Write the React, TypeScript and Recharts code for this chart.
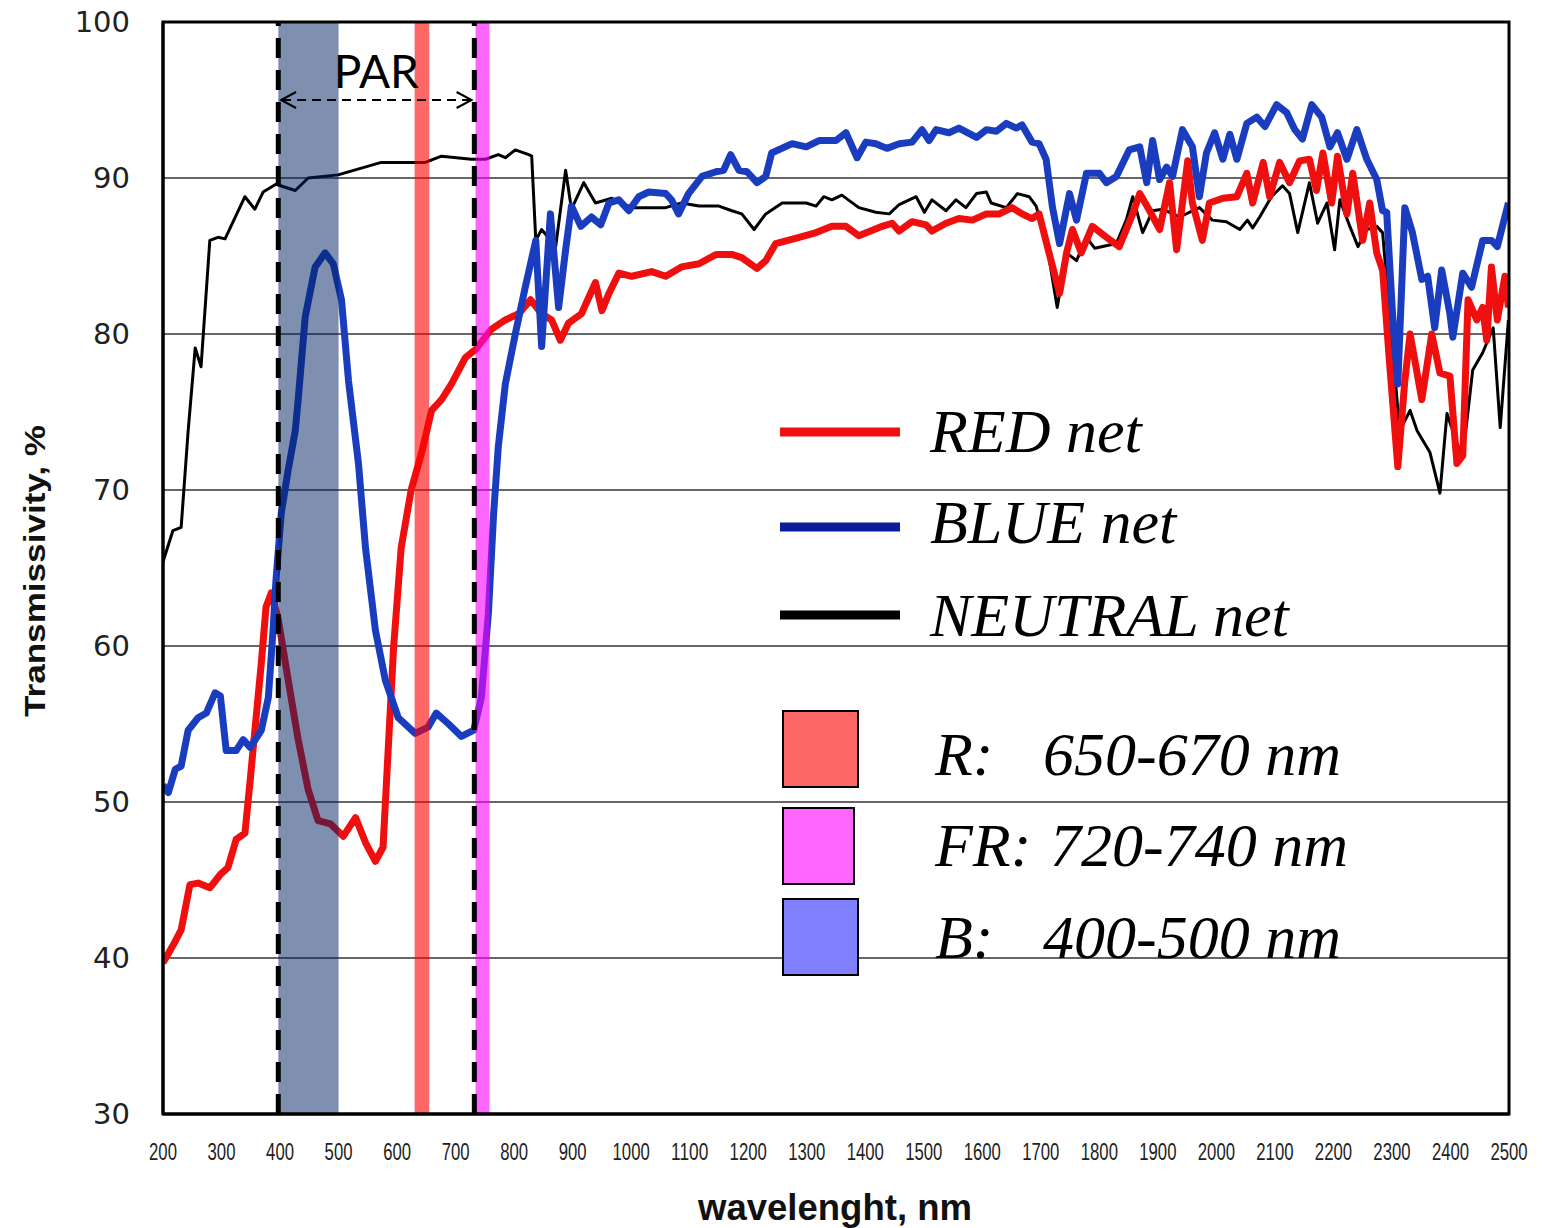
import React from 'react';
import {
  LineChart,
  Line,
  XAxis,
  YAxis,
  CartesianGrid,
  ReferenceArea,
  ReferenceLine,
  Legend,
  Label,
} from 'recharts';

// axis ticks
const xTicks = [200, 300, 400, 500, 600, 700, 800, 900, 1000, 1100, 1200, 1300, 1400, 1500, 1600, 1700, 1800, 1900, 2000, 2100, 2200, 2300, 2400, 2500];
const yTicks = [30, 40, 50, 60, 70, 80, 90, 100];

// NEUTRAL net
const neutralNm = [200, 217, 231, 243, 255, 265, 280, 294, 306, 340, 357, 371, 393, 426, 448, 499, 573, 648, 676, 727, 751, 773, 785, 802, 825, 830, 837, 847, 871, 888, 898, 919, 939, 967, 1001, 1030, 1059, 1086, 1116, 1150, 1172, 1189, 1210, 1230, 1258, 1299, 1316, 1329, 1343, 1360, 1389, 1418, 1441, 1458, 1487, 1501, 1514, 1538, 1555, 1572, 1590, 1607, 1615, 1641, 1660, 1680, 1692, 1709, 1728, 1744, 1761, 1778, 1792, 1829, 1846, 1857, 1874, 1891, 1908, 1937, 1971, 1993, 2017, 2040, 2053, 2062, 2074, 2094, 2113, 2125, 2139, 2159, 2173, 2189, 2202, 2211, 2228, 2242, 2257, 2274, 2284, 2291, 2301, 2313, 2331, 2343, 2365, 2382, 2394, 2411, 2421, 2438, 2455, 2473, 2485, 2499];
const neutralVal = [65.4, 67.4, 67.6, 73.8, 79.1, 77.9, 86.0, 86.2, 86.1, 88.8, 88.0, 89.1, 89.6, 89.2, 90.0, 90.2, 91.0, 91.0, 91.4, 91.2, 91.2, 91.5, 91.3, 91.8, 91.5, 91.4, 86.0, 86.7, 85.6, 90.5, 88.0, 89.7, 88.4, 88.7, 88.1, 88.1, 88.1, 88.4, 88.2, 88.2, 87.9, 87.7, 86.7, 87.7, 88.4, 88.4, 88.2, 88.8, 88.6, 88.9, 88.1, 87.8, 87.7, 88.3, 88.8, 87.8, 88.6, 87.9, 88.6, 88.1, 89.0, 89.1, 88.4, 88.1, 89.0, 88.8, 88.2, 86.0, 81.7, 85.2, 84.7, 86.2, 85.5, 85.8, 87.3, 88.8, 86.5, 87.9, 88.0, 87.5, 88.1, 87.3, 87.2, 86.7, 87.3, 86.8, 87.5, 88.8, 89.5, 89.0, 86.5, 89.7, 87.1, 88.4, 85.4, 88.6, 86.9, 85.6, 86.7, 86.9, 86.5, 83.5, 79.2, 73.8, 75.1, 73.8, 72.4, 69.8, 74.9, 73.0, 72.1, 77.7, 78.8, 80.4, 74.0, 80.9];

// RED net
const redNm = [200, 217, 231, 246, 260, 280, 299, 311, 325, 340, 349, 357, 368, 376, 385, 397, 414, 431, 448, 465, 486, 508, 529, 546, 563, 576, 585, 594, 607, 624, 642, 659, 676, 693, 717, 734, 761, 785, 808, 828, 847, 864, 879, 893, 915, 939, 950, 962, 979, 1001, 1035, 1059, 1086, 1116, 1145, 1172, 1189, 1215, 1230, 1247, 1287, 1316, 1343, 1367, 1389, 1429, 1446, 1458, 1480, 1504, 1514, 1538, 1560, 1583, 1607, 1629, 1651, 1668, 1685, 1697, 1714, 1732, 1744, 1754, 1769, 1788, 1812, 1834, 1857, 1869, 1886, 1903, 1920, 1932, 1951, 1959, 1976, 1988, 2011, 2035, 2052, 2062, 2080, 2091, 2108, 2125, 2142, 2159, 2171, 2182, 2197, 2207, 2223, 2233, 2250, 2262, 2274, 2284, 2296, 2310, 2322, 2331, 2351, 2368, 2382, 2399, 2411, 2421, 2430, 2445, 2455, 2462, 2470, 2480, 2493, 2499];
const redVal = [39.7, 40.8, 41.8, 44.7, 44.8, 44.5, 45.4, 45.8, 47.6, 48.0, 51.4, 54.6, 58.9, 62.5, 63.4, 61.7, 57.8, 54.0, 50.8, 48.8, 48.6, 47.8, 49.0, 47.4, 46.2, 47.1, 53.5, 59.9, 66.3, 70.0, 72.4, 75.1, 75.8, 76.8, 78.5, 79.0, 80.3, 80.9, 81.3, 82.2, 81.3, 80.9, 79.6, 80.7, 81.3, 83.3, 81.5, 82.6, 83.9, 83.7, 84.0, 83.7, 84.3, 84.5, 85.1, 85.1, 84.9, 84.2, 84.7, 85.8, 86.2, 86.5, 86.9, 86.9, 86.3, 86.9, 87.1, 86.6, 87.2, 87.0, 86.6, 87.1, 87.4, 87.3, 87.7, 87.7, 88.1, 87.7, 87.4, 87.7, 85.2, 82.6, 85.2, 86.7, 85.2, 86.9, 86.2, 85.6, 87.7, 89.0, 87.9, 86.7, 89.7, 85.4, 91.1, 88.4, 86.0, 88.4, 88.7, 88.8, 90.3, 88.4, 91.0, 88.8, 91.0, 89.7, 91.1, 91.2, 89.2, 91.6, 88.4, 91.4, 87.7, 90.3, 86.0, 88.4, 85.2, 84.1, 78.1, 71.5, 77.0, 80.0, 75.8, 80.0, 77.5, 77.3, 71.7, 72.2, 82.2, 80.9, 81.7, 79.6, 84.3, 80.9, 83.7, 81.7];

// BLUE net
const blueNm = [200, 209, 221, 231, 243, 260, 274, 289, 298, 308, 325, 337, 349, 368, 380, 388, 393, 402, 414, 426, 431, 443, 460, 477, 491, 505, 517, 534, 546, 563, 580, 602, 631, 653, 667, 688, 710, 731, 744, 756, 765, 773, 785, 802, 819, 837, 847, 862, 876, 888, 898, 914, 932, 948, 962, 979, 996, 1013, 1030, 1059, 1069, 1081, 1098, 1121, 1145, 1158, 1170, 1184, 1198, 1215, 1230, 1240, 1275, 1299, 1321, 1350, 1367, 1386, 1401, 1418, 1437, 1458, 1480, 1497, 1509, 1521, 1543, 1560, 1590, 1607, 1624, 1641, 1658, 1668, 1685, 1697, 1709, 1720, 1732, 1749, 1761, 1778, 1800, 1812, 1829, 1851, 1869, 1881, 1891, 1903, 1915, 1925, 1942, 1959, 1971, 1983, 1997, 2011, 2023, 2035, 2052, 2069, 2083, 2103, 2120, 2134, 2147, 2163, 2180, 2194, 2207, 2223, 2240, 2257, 2274, 2284, 2291, 2301, 2310, 2322, 2335, 2351, 2361, 2373, 2385, 2399, 2404, 2421, 2436, 2455, 2470, 2480, 2499];
const blueVal = [51.1, 50.6, 52.1, 52.3, 54.6, 55.4, 55.7, 57.0, 56.8, 53.3, 53.3, 54.0, 53.5, 54.6, 56.7, 61.0, 64.2, 68.5, 71.3, 73.8, 75.8, 81.1, 84.3, 85.2, 84.5, 82.2, 77.0, 71.7, 66.3, 61.0, 57.8, 55.4, 54.4, 54.8, 55.7, 55.0, 54.2, 54.6, 56.7, 62.1, 68.5, 72.8, 76.8, 80.0, 83.0, 86.0, 79.2, 87.7, 81.7, 85.4, 88.2, 86.9, 87.5, 87.0, 88.4, 88.6, 87.9, 88.8, 89.1, 89.0, 88.6, 87.7, 89.0, 90.1, 90.4, 90.5, 91.5, 90.5, 90.4, 89.7, 90.1, 91.6, 92.2, 92.0, 92.4, 92.4, 92.9, 91.3, 92.3, 92.2, 91.9, 92.2, 92.3, 93.1, 92.4, 93.1, 92.9, 93.2, 92.6, 93.1, 93.0, 93.5, 93.2, 93.4, 92.3, 92.2, 91.2, 88.1, 85.8, 89.0, 87.3, 90.3, 90.3, 89.7, 90.1, 91.8, 92.0, 89.7, 92.4, 89.9, 90.7, 90.1, 93.1, 92.0, 88.8, 91.6, 92.9, 91.2, 92.8, 91.2, 93.5, 93.9, 93.3, 94.7, 94.2, 93.1, 92.5, 94.7, 93.9, 92.0, 92.9, 91.2, 93.1, 91.2, 89.9, 87.9, 87.8, 81.3, 76.8, 88.1, 86.5, 83.5, 83.7, 80.4, 84.1, 81.3, 79.8, 83.9, 83.0, 86.0, 86.0, 85.6, 88.4];

// spectral bands drawn on the plot (nm, as placed in the figure)
const bandFrom = [397, 630, 734];
const bandTo = [500, 655, 758];
const bandFill = ['#002060', '#ff0000', '#ff00ff'];
const bandOpacity = [0.5, 0.6, 0.6];

// PAR limits
const parLines = [397, 732];
const parArrow = [400, 729];
const parArrowY = 95;

// legend
const seriesNames = ['RED net', 'BLUE net', 'NEUTRAL net'];
const seriesLegendColors = ['#f01010', '#0c1a9c', '#000000'];
const bandLabels = ['R:', 'FR:', 'B:'];
const bandRanges = ['650-670 nm', '720-740 nm', '400-500 nm'];
const bandLegendColors = ['#ff6666', '#ff66ff', '#8080ff'];

const zip = (nm: number[], v: number[]) => nm.map((n, i) => ({ nm: n, v: v[i] }));
const neutralData = zip(neutralNm, neutralVal);
const redData = zip(redNm, redVal);
const blueData = zip(blueNm, blueVal);

function XTick(props: any) {
  const { x, y, payload } = props;
  const s = String(payload.value);
  return (
    <text
      x={x}
      y={y + 46}
      textAnchor="middle"
      fontFamily="'Liberation Sans Narrow', 'Liberation Sans', Arial, sans-serif"
      fontSize={23}
      fill="#222"
      textLength={s.length * 9.3}
      lengthAdjust="spacingAndGlyphs"
    >
      {s}
    </text>
  );
}

function YTick(props: any) {
  const { x, y, payload } = props;
  return (
    <text
      x={x}
      y={y + 10}
      textAnchor="end"
      fontFamily="'DejaVu Sans', sans-serif"
      fontSize={29}
      fill="#222"
    >
      {payload.value}
    </text>
  );
}

function ArrowShape(props: any) {
  const { x1, y1, x2, y2 } = props;
  if (x1 == null) return null;
  return (
    <g>
      <line x1={x1 + 2} y1={y1} x2={x2 - 2} y2={y2} stroke="#000" strokeWidth={2} strokeDasharray="9 6" />
      <polyline points={`${x1 + 16},${y1 - 8} ${x1 + 1},${y1} ${x1 + 16},${y1 + 8}`} fill="none" stroke="#000" strokeWidth={2} />
      <polyline points={`${x2 - 16},${y2 - 8} ${x2 - 1},${y2} ${x2 - 16},${y2 + 8}`} fill="none" stroke="#000" strokeWidth={2} />
    </g>
  );
}

function LegendBox() {
  const serif = "'Liberation Serif', 'Times New Roman', serif";
  const lineY = [42, 137, 225];
  const textY = [62, 153, 246];
  const boxY = [321, 418, 509];
  const boxW = [75, 71, 75];
  const labelY = [385, 476, 568];
  const rangeX = [273, 280, 273];
  return (
    <svg width={620} height={600} style={{ overflow: 'visible' }}>
      {seriesNames.map((n, i) => (
        <g key={n}>
          <line x1={10} x2={130} y1={lineY[i]} y2={lineY[i]} stroke={seriesLegendColors[i]} strokeWidth={9} />
          <text x={160} y={textY[i]} fontFamily={serif} fontStyle="italic" fontSize={62} fill="#000">
            {n}
          </text>
        </g>
      ))}
      {bandLabels.map((b, i) => (
        <g key={b}>
          <rect x={13} y={boxY[i]} width={boxW[i]} height={76} fill={bandLegendColors[i]} stroke="#000" strokeWidth={2} />
          <text x={165} y={labelY[i]} fontFamily={serif} fontStyle="italic" fontSize={62} fill="#000">
            {b}
          </text>
          <text x={rangeX[i]} y={labelY[i]} fontFamily={serif} fontStyle="italic" fontSize={62} fill="#000">
            {bandRanges[i]}
          </text>
        </g>
      ))}
    </svg>
  );
}

export default function App() {
  return (
    <div style={{ position: 'absolute', left: 0, top: 0, width: 1543, height: 1228, background: '#fff' }}>
      <LineChart width={1543} height={1228} margin={{ top: 22, right: 34, bottom: 0, left: 0 }}>
        <CartesianGrid vertical={false} stroke="#333" strokeWidth={1.5} />
        <XAxis
          dataKey="nm"
          type="number"
          domain={[200, 2500]}
          ticks={xTicks}
          interval={0}
          allowDataOverflow
          height={114}
          tickSize={0}
          tickMargin={0}
          tick={<XTick />}
          axisLine={{ stroke: '#000', strokeWidth: 3 }}
          label={{
            content: () => (
              <text
                x={835}
                y={1220}
                textAnchor="middle"
                fontFamily="'Liberation Sans', Arial, sans-serif"
                fontWeight="bold"
                fontSize={36}
                fill="#111"
                textLength={274}
                lengthAdjust="spacingAndGlyphs"
              >
                wavelenght, nm
              </text>
            ),
          }}
        />
        <YAxis
          type="number"
          domain={[30, 100]}
          ticks={yTicks}
          interval={0}
          allowDataOverflow
          width={163}
          tickSize={0}
          tickMargin={33}
          tick={<YTick />}
          axisLine={{ stroke: '#000', strokeWidth: 3 }}
          label={{
            content: () => (
              <text
                transform="translate(45, 571) rotate(-90)"
                textAnchor="middle"
                fontFamily="'Liberation Sans Narrow', 'Liberation Sans', Arial, sans-serif"
                fontWeight="bold"
                fontSize={30}
                fill="#111"
                textLength={292}
                lengthAdjust="spacingAndGlyphs"
              >
                Transmissivity, %
              </text>
            ),
          }}
        />
        <Line data={neutralData} dataKey="v" type="linear" stroke="#000" strokeWidth={3} dot={false} strokeLinejoin="round" isAnimationActive={false} />
        <Line data={redData} dataKey="v" type="linear" stroke="#f00f0f" strokeWidth={7} dot={false} strokeLinejoin="round" isAnimationActive={false} />
        <Line data={blueData} dataKey="v" type="linear" stroke="#1a3dbf" strokeWidth={7} dot={false} strokeLinejoin="round" isAnimationActive={false} />
        {bandFrom.map((f, i) => (
          <ReferenceArea
            key={`band${i}`}
            x1={f}
            x2={bandTo[i]}
            y1={30}
            y2={100}
            fill={bandFill[i]}
            fillOpacity={bandOpacity[i]}
            stroke="none"
            zIndex={450}
          />
        ))}
        {parLines.map((x) => (
          <ReferenceLine key={`par${x}`} x={x} stroke="#000" strokeWidth={5} strokeDasharray="20 12" zIndex={460} />
        ))}
        <ReferenceLine
          segment={[{ x: parArrow[0], y: parArrowY }, { x: parArrow[1], y: parArrowY }]}
          shape={ArrowShape}
          zIndex={460}
        >
          <Label value="PAR" position="top" offset={12} fontSize={46} fontFamily="Lato, 'Open Sans', sans-serif" fill="#000" />
        </ReferenceLine>
        <ReferenceArea x1={200} x2={2500} y1={30} y2={100} fill="none" stroke="#000" strokeWidth={3} zIndex={470} />
        <Legend
          layout="vertical"
          align="center"
          verticalAlign="middle"
          content={() => <LegendBox />}
          wrapperStyle={{ left: 770, top: 390, width: 620, height: 600 }}
        />
      </LineChart>
    </div>
  );
}
